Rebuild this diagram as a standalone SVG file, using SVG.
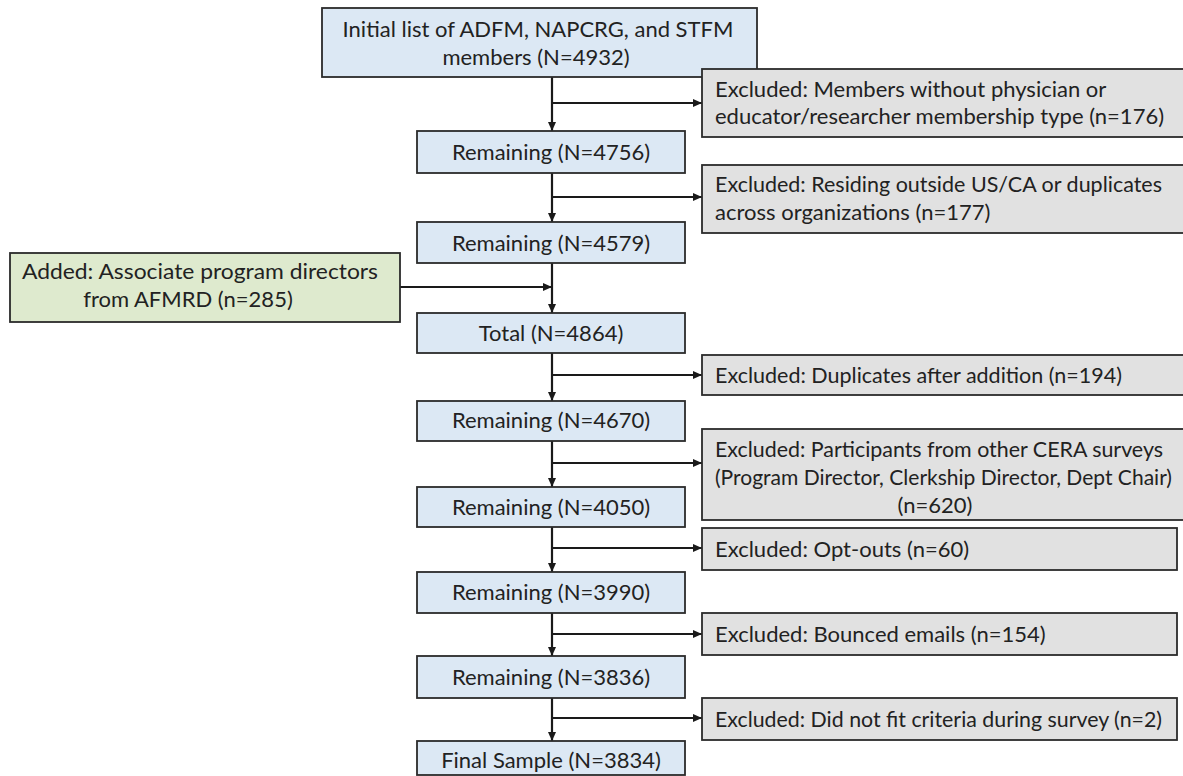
<svg xmlns="http://www.w3.org/2000/svg" width="1183" height="776" viewBox="0 0 1183 776">
<defs>
<marker id="ah" markerWidth="10" markerHeight="10" refX="9" refY="5" orient="auto" markerUnits="userSpaceOnUse">
<path d="M0,1 L9,5 L0,9 Z" fill="#1a1a1a"/>
</marker>
<style>
.blue{fill:#dce8f4;stroke:#2b2b2b;stroke-width:1.8}
.gray{fill:#e1e1e1;stroke:#2b2b2b;stroke-width:1.8}
.green{fill:#deeace;stroke:#2b2b2b;stroke-width:1.8}
text{font-family:Lato,"Liberation Sans",sans-serif;font-size:22px;fill:#222222}
.c{text-anchor:middle}
.ar{stroke:#1a1a1a;stroke-width:2.2;fill:none;marker-end:url(#ah)}
</style>
</defs>
<rect width="1183" height="776" fill="#ffffff"/>

<g id="connectors">
<path class="ar" d="M552,77 V131"/>
<path class="ar" d="M552,103 H702"/>
<path class="ar" d="M552,173 V222"/>
<path class="ar" d="M552,197 H702"/>
<path class="ar" d="M552,263 V313"/>
<path class="ar" d="M400,287 H552"/>
<path class="ar" d="M552,353 V401"/>
<path class="ar" d="M552,375 H702"/>
<path class="ar" d="M552,441 V487"/>
<path class="ar" d="M552,463 H702"/>
<path class="ar" d="M552,527 V572"/>
<path class="ar" d="M552,548 H702"/>
<path class="ar" d="M552,613 V656"/>
<path class="ar" d="M552,634 H702"/>
<path class="ar" d="M552,698 V741"/>
<path class="ar" d="M552,718 H702"/>
</g>

<g id="n-initial">
<rect class="blue" x="322" y="8" width="435" height="69"/>
<text class="c" x="538" y="37">Initial list of ADFM, NAPCRG, and STFM</text>
<text class="c" x="536" y="65">members (N=4932)</text>
</g>
<g id="n-ex1">
<rect class="gray" x="702" y="69" width="490" height="68"/>
<text x="715" y="97">Excluded: Members without physician or</text>
<text x="715" y="124">educator/researcher membership type (n=176)</text>
</g>
<g id="n-r4756">
<rect class="blue" x="417" y="131" width="268" height="42"/>
<text class="c" x="551" y="160">Remaining (N=4756)</text>
</g>
<g id="n-ex2">
<rect class="gray" x="702" y="165" width="490" height="68"/>
<text x="715" y="192" textLength="447" lengthAdjust="spacingAndGlyphs">Excluded: Residing outside US/CA or duplicates</text>
<text x="715" y="220">across organizations (n=177)</text>
</g>
<g id="n-r4579">
<rect class="blue" x="417" y="222" width="268" height="41"/>
<text class="c" x="551" y="251">Remaining (N=4579)</text>
</g>
<g id="n-added">
<rect class="green" x="10" y="253" width="390" height="69"/>
<text class="c" x="200" y="279" textLength="356" lengthAdjust="spacingAndGlyphs">Added: Associate program directors</text>
<text class="c" x="188" y="307">from AFMRD (n=285)</text>
</g>
<g id="n-total">
<rect class="blue" x="417" y="313" width="268" height="40"/>
<text class="c" x="551" y="341">Total (N=4864)</text>
</g>
<g id="n-ex3">
<rect class="gray" x="702" y="355" width="490" height="40"/>
<text x="715" y="383" textLength="407" lengthAdjust="spacingAndGlyphs">Excluded: Duplicates after addition (n=194)</text>
</g>
<g id="n-r4670">
<rect class="blue" x="417" y="401" width="268" height="40"/>
<text class="c" x="551" y="428">Remaining (N=4670)</text>
</g>
<g id="n-ex4">
<rect class="gray" x="702" y="429" width="490" height="91"/>
<text x="715" y="457" textLength="448" lengthAdjust="spacingAndGlyphs">Excluded: Participants from other CERA surveys</text>
<text x="715" y="485" textLength="457" lengthAdjust="spacingAndGlyphs">(Program Director, Clerkship Director, Dept Chair)</text>
<text class="c" x="935" y="513">(n=620)</text>
</g>
<g id="n-r4050">
<rect class="blue" x="417" y="487" width="268" height="40"/>
<text class="c" x="551" y="515">Remaining (N=4050)</text>
</g>
<g id="n-ex5">
<rect class="gray" x="702" y="528" width="475" height="42"/>
<text x="715" y="557">Excluded: Opt-outs (n=60)</text>
</g>
<g id="n-r3990">
<rect class="blue" x="417" y="572" width="268" height="41"/>
<text class="c" x="551" y="600">Remaining (N=3990)</text>
</g>
<g id="n-ex6">
<rect class="gray" x="702" y="613" width="475" height="42"/>
<text x="715" y="642">Excluded: Bounced emails (n=154)</text>
</g>
<g id="n-r3836">
<rect class="blue" x="417" y="656" width="268" height="42"/>
<text class="c" x="551" y="685">Remaining (N=3836)</text>
</g>
<g id="n-ex7">
<rect class="gray" x="702" y="698" width="475" height="42"/>
<text x="715" y="727" textLength="447" lengthAdjust="spacingAndGlyphs">Excluded: Did not fit criteria during survey (n=2)</text>
</g>
<g id="n-final">
<rect class="blue" x="417" y="741" width="268" height="34"/>
<text class="c" x="551" y="768">Final Sample (N=3834)</text>
</g>
</svg>
